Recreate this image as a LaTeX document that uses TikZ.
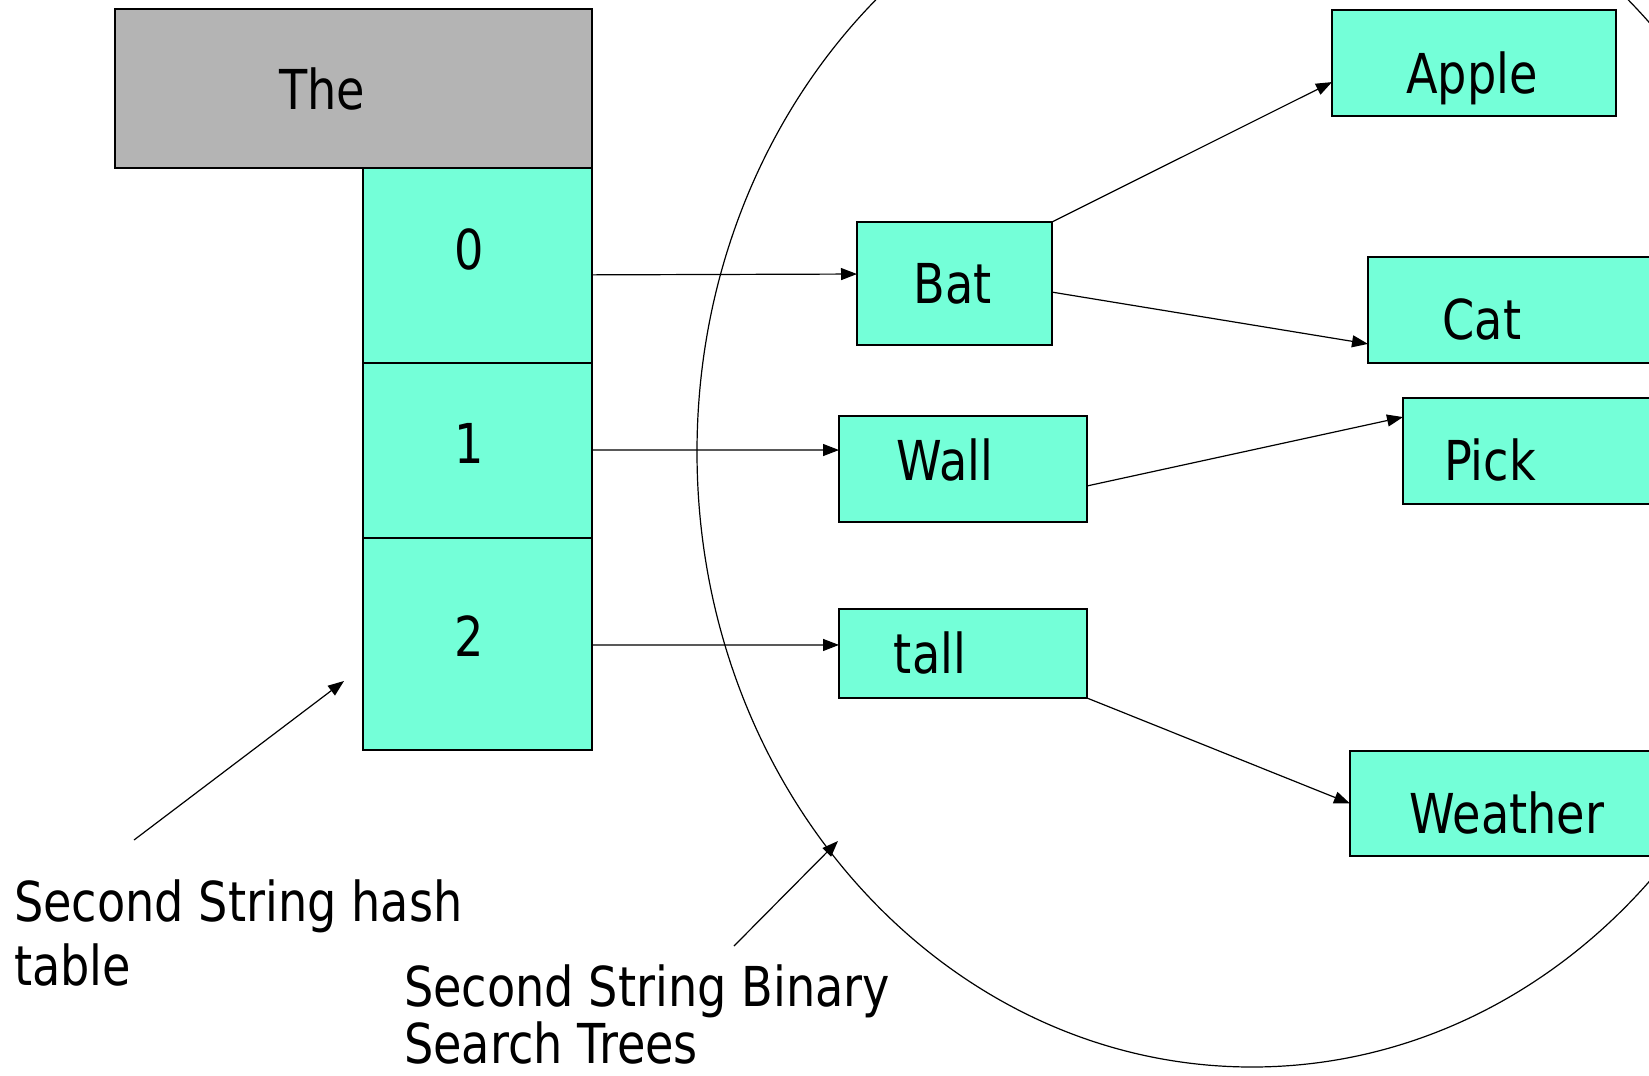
\documentclass[tikz,border=0pt]{standalone}
\usepackage{fontspec}
\setmainfont{DejaVu Sans}[FakeStretch=0.84]
\usetikzlibrary{arrows.meta,calc}
\definecolor{aqua}{RGB}{116,255,216}
\definecolor{greybox}{RGB}{180,180,180}
\tikzset{
  cell/.style={draw=black,line width=1.4pt,fill=aqua,inner sep=0pt,outer sep=0pt},
  greycell/.style={draw=black,line width=1.4pt,fill=greybox,inner sep=0pt,outer sep=0pt},
  txt/.style={anchor=base,inner sep=0pt,font=\fontsize{55}{66}\selectfont},
  ltxt/.style={anchor=base west,inner sep=0pt,font=\fontsize{55}{66}\selectfont},
  conn/.style={line width=1.2pt,-{Triangle[length=16pt,width=12pt]}}
}
\begin{document}
\begin{tikzpicture}[x=1pt,y=-1pt]
\useasboundingbox (0,0) rectangle (1649,1076);
\clip (0,0) rectangle (1649,1076);
% ellipse
\draw[line width=1.2pt] (1252,452) ellipse [x radius=555, y radius=615];
% hash table
\node[greycell,minimum width=477pt,minimum height=159pt,anchor=north west] (the) at (115,9) {};
\node[cell,minimum width=229pt,minimum height=195pt,anchor=north west] (h0) at (363,168) {};
\node[cell,minimum width=229pt,minimum height=175pt,anchor=north west] (h1) at (363,363) {};
\node[cell,minimum width=229pt,minimum height=212pt,anchor=north west] (h2) at (363,538) {};
\node[txt] (tthe) at (322,109) {The};
\node[txt] (t0) at (469,269) {0};
\node[txt] (t1) at (469,463) {1};
\node[txt] (t2) at (469,656) {2};
% tree boxes
\node[cell,minimum width=195pt,minimum height=123pt,anchor=north west] (bat) at (857,222) {};
\node[cell,minimum width=248pt,minimum height=106pt,anchor=north west] (wall) at (839,416) {};
\node[cell,minimum width=248pt,minimum height=89pt,anchor=north west] (tall) at (839,609) {};
\node[cell,minimum width=284pt,minimum height=106pt,anchor=north west] (apple) at (1332,10) {};
\node[cell,minimum width=300pt,minimum height=106pt,anchor=north west] (cat) at (1368,257) {};
\node[cell,minimum width=270pt,minimum height=106pt,anchor=north west] (pick) at (1403,398) {};
\node[cell,minimum width=320pt,minimum height=105pt,anchor=north west] (weather) at (1350,751) {};
\node[txt] (tbat) at (953,303) {Bat};
\node[txt] (twall) at (945,480) {Wall};
\node[txt] (ttall) at (930,673) {tall};
\node[txt] (tapple) at (1472,93) {Apple};
\node[txt] (tcat) at (1482,339) {Cat};
\node[txt] (tpick) at (1490,480) {Pick};
\node[txt] (tweather) at (1507,833) {Weather};
% connectors
\draw[conn] ($(h0.north east)!0.548!(h0.south east)$) -- ($(bat.north west)!0.423!(bat.south west)$);
\draw[conn] ($(h1.north east)!0.497!(h1.south east)$) -- ($(wall.north west)!0.321!(wall.south west)$);
\draw[conn] ($(h2.north east)!0.505!(h2.south east)$) -- ($(tall.north west)!0.404!(tall.south west)$);
\draw[conn] (bat.north east) -- ($(apple.north west)!0.68!(apple.south west)$);
\draw[conn] ($(bat.north east)!0.57!(bat.south east)$) -- ($(cat.north west)!0.82!(cat.south west)$);
\draw[conn] ($(wall.north east)!0.66!(wall.south east)$) -- ($(pick.north west)!0.18!(pick.south west)$);
\draw[conn] (tall.south east) -- ($(weather.north west)!0.5!(weather.south west)$);
% labels
\node[ltxt] (l1a) at (14,921) {Second String hash};
\node[ltxt] (l1b) at (14,985) {table};
\node[ltxt] (l2a) at (404,1006) {Second String Binary};
\node[ltxt] (l2b) at (404,1063) {Search Trees};
\coordinate (p1s) at (134,840);
\coordinate (p1e) at (344,681);
\coordinate (p2s) at (734,946);
\coordinate (p2e) at (838,841);
\draw[conn] (p1s) -- (p1e);
\draw[conn] (p2s) -- (p2e);
\end{tikzpicture}
\end{document}
